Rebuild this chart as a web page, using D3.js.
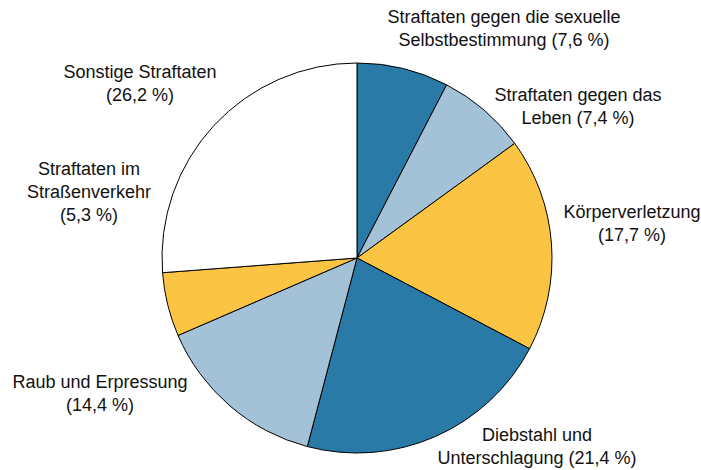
<!DOCTYPE html>
<html><head><meta charset="utf-8">
<script src="https://cdn.jsdelivr.net/npm/d3@7"></script>
<style>body{margin:0;background:#fff}</style>
</head><body>
<svg id="c" width="701" height="470"></svg>
<script>
const categories = ["Straftaten gegen die sexuelle Selbstbestimmung","Straftaten gegen das Leben","Körperverletzung","Diebstahl und Unterschlagung","Raub und Erpressung","Straftaten im Straßenverkehr","Sonstige Straftaten"];
const values = [7.6, 7.4, 17.7, 21.4, 14.4, 5.3, 26.2];
const valueLabels = ["7,6 %","7,4 %","17,7 %","21,4 %","14,4 %","5,3 %","26,2 %"];
const labelLines = [
  ["Straftaten gegen die sexuelle","Selbstbestimmung (7,6 %)"],
  ["Straftaten gegen das","Leben (7,4 %)"],
  ["Körperverletzung","(17,7 %)"],
  ["Diebstahl und","Unterschlagung (21,4 %)"],
  ["Raub und Erpressung","(14,4 %)"],
  ["Straftaten im","Straßenverkehr","(5,3 %)"],
  ["Sonstige Straftaten","(26,2 %)"]
];
const colors = ["#2a7aa8","#a4c2d7","#fbc543","#2a7aa8","#a4c2d7","#fbc543","#ffffff"];
// label anchor positions (center x, first baseline y)
const labelPos = [[504,23],[578,101],[632,218],[537,441],[100,388],[89,175],[140,78]];

const svg = d3.select("#c");
const cx = 357, cy = 258, r = 195;
const pie = d3.pie().sort(null).value(d => d)(values);
const arc = d3.arc().innerRadius(0).outerRadius(r);
const g = svg.append("g").attr("transform", `translate(${cx},${cy})`);
g.selectAll("path").data(pie).join("path")
  .attr("d", arc)
  .attr("fill", (d,i) => colors[i])
  .attr("stroke", "#000").attr("stroke-width", 1).attr("stroke-linejoin","round");

const lh = 23;
labelLines.forEach((lines, i) => {
  const t = svg.append("text")
    .attr("font-family", "'Liberation Sans', Arial, Helvetica, sans-serif")
    .attr("font-size", 18).attr("fill", "#111").attr("text-anchor", "middle");
  lines.forEach((ln, j) => {
    t.append("tspan").attr("x", labelPos[i][0]).attr("y", labelPos[i][1] + j*lh).text(ln);
  });
});
</script>
</body></html>
